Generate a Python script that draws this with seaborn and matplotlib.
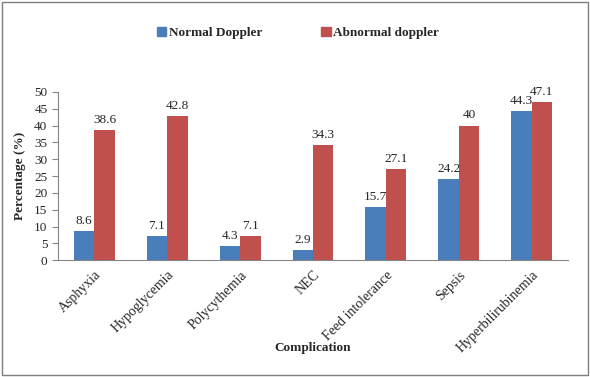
import pandas as pd
import matplotlib.pyplot as plt
import seaborn as sns
from matplotlib.patches import Rectangle

complications = ['Asphyxia', 'Hypoglycemia', 'Polycythemia', 'NEC',
                 'Feed intolerance', 'Sepsis', 'Hyperbilirubinemia']
normal = [8.6, 7.1, 4.3, 2.9, 15.7, 24.2, 44.3]
abnormal = [38.6, 42.8, 7.1, 34.3, 27.1, 40, 47.1]
series = ['Normal Doppler', 'Abnormal doppler']
yticks = list(range(0, 55, 5))

df = pd.DataFrame({
    'Complication': complications * 2,
    'Percentage': normal + abnormal,
    'Group': [series[0]] * len(normal) + [series[1]] * len(abnormal),
})

sns.set_style("white")
plt.rcParams['font.family'] = ['Liberation Serif', 'DejaVu Serif']

fig = plt.figure(figsize=(5.9, 3.77), dpi=100)
ax = fig.add_axes([0.098, 0.31, 0.865, 0.446])

palette = {series[0]: '#4a7ebb', series[1]: '#c0504d'}
sns.barplot(data=df, x='Complication', y='Percentage', hue='Group',
            palette=palette, width=0.56, ax=ax, saturation=1,
            edgecolor='none', legend=False)

for container in ax.containers:
    ax.bar_label(container, labels=[f'{v:g}' for v in container.datavalues],
                 padding=3, fontsize=9.5)

ax.set_ylim(0, 50)
ax.set_yticks(yticks)
ax.set_yticklabels([str(t) for t in yticks], fontsize=9.5)
ax.set_xlim(-0.5, len(complications) - 0.5)
ax.set_xticks([i - 0.5 for i in range(len(complications) + 1)], minor=True)
ax.set_xticklabels(complications, rotation=45, ha='right',
                   rotation_mode='anchor', fontsize=10)
ax.tick_params(axis='x', which='major', length=0, pad=6)
ax.tick_params(axis='x', which='minor', length=4, color='#868686')
ax.tick_params(axis='y', length=4, color='#868686', left=True)
for side in ['top', 'right']:
    ax.spines[side].set_visible(False)
for side in ['left', 'bottom']:
    ax.spines[side].set_color('#868686')

ax.set_xlabel('')
fig.text(0.53, 0.077, 'Complication', ha='center', va='center',
         fontsize=9.5, fontweight='bold')
ax.set_ylabel('Percentage (%)', fontsize=9.5, fontweight='bold', labelpad=6)

handles = [Rectangle((0, 0), 1, 1, color=palette[s]) for s in series]
fig.legend(handles, series, loc='center', bbox_to_anchor=(0.505, 0.912),
           ncol=2, frameon=False, handlelength=0.7, handleheight=0.7,
           handletextpad=0.2, columnspacing=4.5,
           prop={'weight': 'bold', 'size': 9.5})

fig.patches.append(Rectangle((0.003, 0.004), 0.994, 0.99, transform=fig.transFigure,
                             fill=False, edgecolor='#7f7f7f', linewidth=1))

fig.savefig('out.png', dpi=100)
